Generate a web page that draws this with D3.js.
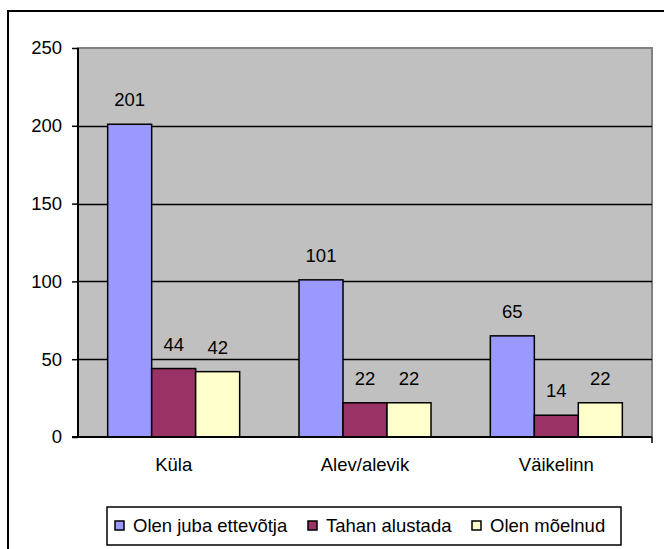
<!DOCTYPE html>
<html><head><meta charset="utf-8">
<script src="https://cdn.jsdelivr.net/npm/d3@7"></script>
<style>body{margin:0;background:#fff}svg{display:block}text{font-family:"Liberation Sans",Arial,sans-serif}</style>
</head><body>
<script>
const categories = ["Küla", "Alev/alevik", "Väikelinn"];
const seriesNames = ["Olen juba ettevõtja", "Tahan alustada", "Olen mõelnud"];
const series1 = [201, 101, 65];
const series2 = [44, 22, 14];
const series3 = [42, 22, 22];
const yTicks = [0, 50, 100, 150, 200, 250];
const colors = ["#9999FF", "#993366", "#FFFFCC"];

const W = 664, H = 549, FS = 18.5;
const svg = d3.select("body").append("svg").attr("width", W).attr("height", H);
svg.append("rect").attr("x", 8).attr("y", 11).attr("width", 700).attr("height", 600)
  .attr("fill", "#fff").attr("stroke", "#000").attr("stroke-width", 2);

const L = 78, T = 48, R = 652, B = 437;
const x = d3.scaleBand().domain(categories).range([L, R]);
const y = d3.scaleLinear().domain([0, 250]).range([B, T]);

svg.append("rect").attr("x", L).attr("y", T).attr("width", R - L).attr("height", B - T)
  .attr("fill", "#C0C0C0").attr("stroke", "#808080").attr("stroke-width", 2);

svg.append("g").selectAll("line").data(yTicks.filter(d => d > 0 && d < 250)).join("line")
  .attr("x1", L).attr("x2", R).attr("y1", d => Math.round(y(d)) + 0.5).attr("y2", d => Math.round(y(d)) + 0.5)
  .attr("stroke", "#000").attr("stroke-width", 1.5);

const data = [series1, series2, series3];
const bw = 44;
const x1 = d3.scaleBand().domain(d3.range(3)).range([0, bw * 3]);
categories.forEach((c, ci) => {
  const g0 = x(c) + x.bandwidth() / 2 - bw * 1.5;
  data.forEach((s, si) => {
    const v = s[ci];
    svg.append("rect").attr("x", g0 + x1(si)).attr("y", y(v)).attr("width", bw).attr("height", y(0) - y(v))
      .attr("fill", colors[si]).attr("stroke", "#000").attr("stroke-width", 1.5);
    svg.append("text").attr("x", g0 + x1(si) + bw / 2).attr("y", y(v) - 18).attr("text-anchor", "middle")
      .attr("font-size", FS).text(v);
  });
});

const yAxis = d3.axisLeft(y).tickValues(yTicks).tickSize(6).tickPadding(10);
const ga = svg.append("g").attr("transform", `translate(${L},0)`).call(yAxis);
ga.attr("font-size", FS).attr("font-family", "Liberation Sans, Arial, sans-serif");
ga.select(".domain").attr("stroke", "#000").attr("stroke-width", 2).attr("d", `M0,${T}V${B}`);
ga.selectAll(".tick line").attr("stroke", "#000").attr("stroke-width", 1.5);
ga.selectAll(".tick text").attr("fill", "#000");

const xAxis = d3.axisBottom(x).tickSize(0).tickPadding(21);
const gx = svg.append("g").attr("transform", `translate(0,${B})`).call(xAxis);
gx.attr("font-size", FS).attr("font-family", "Liberation Sans, Arial, sans-serif");
gx.select(".domain").attr("stroke", "#000").attr("stroke-width", 2).attr("d", `M${L - 6},0H${R}`);
gx.selectAll(".tick text").attr("fill", "#000");
svg.append("line").attr("x1", R).attr("x2", R).attr("y1", B).attr("y2", B + 6).attr("stroke", "#000").attr("stroke-width", 1.5);

const lg = svg.append("g");
lg.append("rect").attr("x", 107).attr("y", 507).attr("width", 514).attr("height", 38)
  .attr("fill", "#fff").attr("stroke", "#000").attr("stroke-width", 1.5);
const lx = [115, 308, 472];
seriesNames.forEach((n, i) => {
  lg.append("rect").attr("x", lx[i]).attr("y", 521).attr("width", 9).attr("height", 9)
    .attr("fill", colors[i]).attr("stroke", "#000").attr("stroke-width", 1.5);
  lg.append("text").attr("x", lx[i] + 18).attr("y", 532).attr("font-size", FS).text(n);
});
</script>
</body></html>
